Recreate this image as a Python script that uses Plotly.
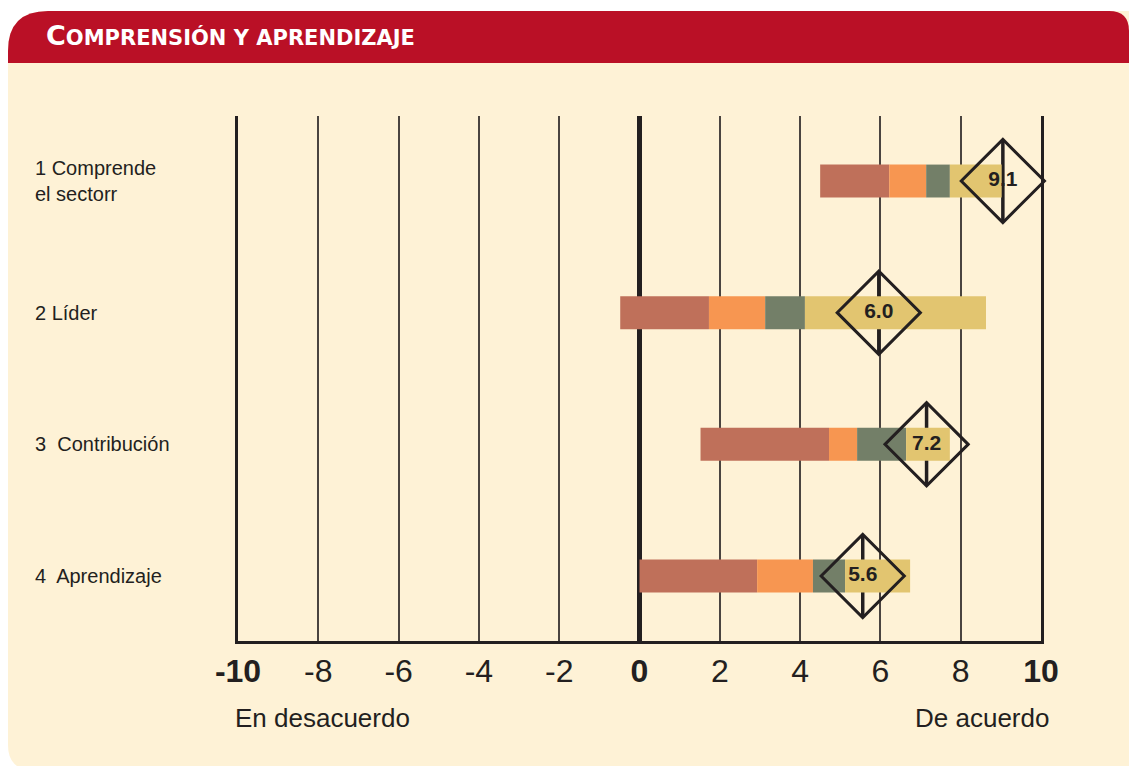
import plotly.graph_objects as go

# datos
filas = [0, 1, 2, 3]
etiquetas = ["1 Comprende<br>el sectorr", "2 Líder", "3  Contribución", "4  Aprendizaje"]
inicio = [4.50, -0.48, 1.52, 0.00]
fin_marron = [6.22, 1.73, 4.72, 2.93]
fin_naranja = [7.14, 3.13, 5.42, 4.32]
fin_verde = [7.73, 4.12, 6.64, 5.12]
fin_amarillo = [9.02, 8.63, 7.73, 6.74]
media = [9.05, 5.96, 7.15, 5.56]
media_txt = ["9.1", "6.0", "7.2", "5.6"]
pct_desacuerdo = ["0%", "7%", "4%", "0%"]
pct_acuerdo = ["100%", "89%", "89%", "78%"]
ticks = [-10, -8, -6, -4, -2, 0, 2, 4, 6, 8, 10]
ticks_txt = ["<b>-10</b>", "-8", "-6", "-4", "-2", "<b>0</b>", "2", "4", "6", "8", "<b>10</b>"]

CREMA = "#FEF2D6"
ROJO = "#BA1026"
NEGRO = "#231F20"
FUENTE = "Liberation Sans, Arial, sans-serif"

# area del grafico en pixeles
L, T, W, H = 238, 116, 803, 525


def px(x):
    return (x - L) / W


def py(y):
    return (T + H - y) / H


fig = go.Figure()

segmentos = [
    (inicio, fin_marron, "#BF705A"),
    (fin_marron, fin_naranja, "#F79651"),
    (fin_naranja, fin_verde, "#737F68"),
    (fin_verde, fin_amarillo, "#E2C570"),
]
for desde, hasta, color in segmentos:
    fig.add_trace(go.Bar(
        y=filas, base=desde, x=[b - a for a, b in zip(desde, hasta)],
        orientation="h", width=0.25, marker=dict(color=color, line_width=0),
    ))

# linea vertical del rombo (debajo de las barras)
for m, f in zip(media, filas):
    fig.add_shape(type="line", x0=m, x1=m, y0=f - 0.31, y1=f + 0.31,
                  xref="x", yref="y", layer="between",
                  line=dict(color=NEGRO, width=3.5))

fig.add_trace(go.Scatter(
    x=media, y=filas, mode="markers+text",
    text=media_txt, textposition="middle center",
    textfont=dict(family=FUENTE, size=21, color=NEGRO, weight="bold"),
    marker=dict(symbol="diamond-open", size=64, color=NEGRO, line=dict(width=3, color=NEGRO)),
    cliponaxis=False,
))

# circulos de porcentajes
x_izq, x_der = -10.83, 10.85
for xc, xt, txt in [(x_izq, -10.66, pct_desacuerdo), (x_der, x_der - 0.04, pct_acuerdo)]:
    fig.add_trace(go.Scatter(
        x=[xc] * 4, y=filas, mode="markers",
        marker=dict(symbol="circle", size=52, color=CREMA, line=dict(width=2.5, color="#7D7469")),
        cliponaxis=False,
    ))
    fig.add_trace(go.Scatter(
        x=[xt] * 4, y=filas, mode="text", text=txt, textposition="middle center",
        textfont=dict(family=FUENTE, size=16, color=NEGRO), cliponaxis=False,
    ))

for f, et in zip(filas, etiquetas):
    fig.add_annotation(x=px(33), xref="paper", y=f, yref="y", text=et, showarrow=False,
                       xanchor="left", yanchor="middle", align="left",
                       font=dict(family=FUENTE, size=20, color=NEGRO))

fig.add_annotation(x=px(233), y=py(718), xref="paper", yref="paper", text="En desacuerdo",
                   showarrow=False, xanchor="left", yanchor="middle",
                   font=dict(family=FUENTE, size=26, color=NEGRO))
fig.add_annotation(x=px(1051), y=py(718), xref="paper", yref="paper", text="De acuerdo",
                   showarrow=False, xanchor="right", yanchor="middle",
                   font=dict(family=FUENTE, size=26, color=NEGRO))

# tarjeta crema y cabecera roja
tarjeta = (f"M {px(48)},{py(11)} L {px(1140)},{py(11)} L {px(1140)},{py(770)} "
           f"L {px(33)},{py(770)} Q {px(8)},{py(770)} {px(8)},{py(745)} "
           f"L {px(8)},{py(51)} Q {px(8)},{py(11)} {px(48)},{py(11)} Z")
cabecera = (f"M {px(48)},{py(11)} L {px(1109)},{py(11)} Q {px(1129)},{py(11)} {px(1129)},{py(31)} "
            f"L {px(1129)},{py(63)} L {px(8)},{py(63)} L {px(8)},{py(51)} "
            f"Q {px(8)},{py(11)} {px(48)},{py(11)} Z")
fig.add_shape(type="path", path=tarjeta, xref="paper", yref="paper", layer="below",
              fillcolor=CREMA, line_width=0)
fig.add_shape(type="path", path=cabecera, xref="paper", yref="paper", layer="below",
              fillcolor=ROJO, line_width=0)

fig.update_layout(
    width=1129, height=766,
    margin=dict(l=L, r=1129 - L - W, t=T, b=766 - T - H),
    paper_bgcolor="white", plot_bgcolor="rgba(0,0,0,0)",
    barmode="overlay", showlegend=False, hovermode=False,
    title=dict(text='<span style="font-size:27px">C</span>OMPRENSIÓN Y APRENDIZAJE',
               x=46 / 1129, xref="container", xanchor="left",
               y=1 - 38 / 766, yref="container", yanchor="middle",
               font=dict(family="DejaVu Sans, sans-serif", size=21, color="white", weight="bold")),
    xaxis=dict(range=[-10, 10], tickvals=ticks, ticktext=ticks_txt, ticks="",
               showgrid=True, gridcolor="#4A4440", gridwidth=1.5,
               zeroline=True, zerolinecolor=NEGRO, zerolinewidth=4.5,
               showline=True, linecolor=NEGRO, linewidth=3, mirror=False,
               tickfont=dict(family=FUENTE, size=32, color=NEGRO), fixedrange=True),
    yaxis=dict(range=[3.494, -0.494], showgrid=False, zeroline=False, showticklabels=False,
               showline=True, linecolor=NEGRO, linewidth=3, mirror=True, fixedrange=True),
)

fig.write_html("out.html", config={"displayModeBar": False},
               post_script="document.body.style.margin='0';document.body.style.overflow='hidden';")
